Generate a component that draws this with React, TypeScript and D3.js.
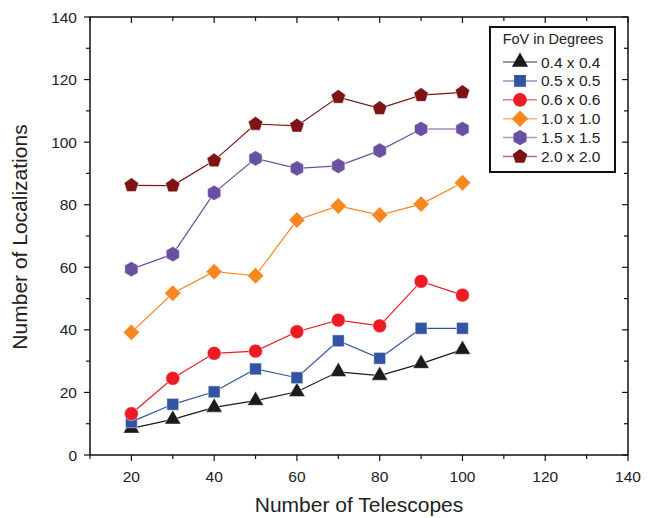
import * as d3 from 'd3';
import { useEffect, useRef } from 'react';

const telescopes = [20, 30, 40, 50, 60, 70, 80, 90, 100];
const fovLabels = ['0.4 x 0.4', '0.5 x 0.5', '0.6 x 0.6', '1.0 x 1.0', '1.5 x 1.5', '2.0 x 2.0'];
const fov04 = [8.5, 11.4, 15.2, 17.4, 20.2, 26.6, 25.4, 29.2, 33.7];
const fov05 = [10.6, 16.2, 20.2, 27.5, 24.7, 36.5, 30.9, 40.5, 40.5];
const fov06 = [13.2, 24.5, 32.5, 33.2, 39.4, 43.1, 41.3, 55.5, 51.1];
const fov10 = [39.2, 51.7, 58.6, 57.3, 75.1, 79.6, 76.7, 80.2, 87];
const fov15 = [59.4, 64.2, 83.8, 94.8, 91.6, 92.4, 97.3, 104.2, 104.2];
const fov20 = [86.2, 86.1, 94.1, 105.8, 105.2, 114.4, 110.8, 115, 115.9];
const xTicks = [20, 40, 60, 80, 100, 120, 140];
const yTicks = [0, 20, 40, 60, 80, 100, 120, 140];

const colors = ['#1b1b1b', '#3353a4', '#ed1c24', '#f7871f', '#6a50a3', '#7d1315'];

const polygon = (n: number, r: number, rot: number) => {
  const pts = d3.range(n).map(i => {
    const a = rot + (i * 2 * Math.PI) / n;
    return [r * Math.cos(a), r * Math.sin(a)];
  });
  return 'M' + pts.map(p => p.map(v => v.toFixed(2)).join(',')).join('L') + 'Z';
};

// triangle, square, circle, diamond, hexagon, pentagon
const markerPath = (i: number) => {
  if (i === 0) return d3.symbol().type(d3.symbolTriangle).size(115)() as string;
  if (i === 1) return d3.symbol().type(d3.symbolSquare).size(140)() as string;
  if (i === 2) return d3.symbol().type(d3.symbolCircle).size(150)() as string;
  if (i === 3) return polygon(4, 8.2, 0);
  if (i === 4) return polygon(6, 7.6, -Math.PI / 2);
  return polygon(5, 7.6, -Math.PI / 2);
};

const App = () => {
  const svgRef = useRef<SVGSVGElement>(null);

  useEffect(() => {
    const svg = d3.select(svgRef.current);
    svg.selectAll('*').remove();
    const left = 90, right = 628, top = 17, bottom = 455;
    const font = 'Liberation Sans, Arial, sans-serif';

    const x = d3.scaleLinear().domain([10, 140]).range([left, right]);
    const y = d3.scaleLinear().domain([0, 140]).range([bottom, top]);

    const series = [fov04, fov05, fov06, fov10, fov15, fov20];

    // frame
    svg.append('rect')
      .attr('x', left).attr('y', top)
      .attr('width', right - left).attr('height', bottom - top)
      .attr('fill', 'none').attr('stroke', '#111').attr('stroke-width', 1.5);

    const g = svg.append('g').attr('stroke', '#111').attr('stroke-width', 1.2);
    d3.range(10, 141, 10).forEach(v => {
      const len = v % 20 === 0 ? 6 : 4;
      g.append('line').attr('x1', x(v)).attr('x2', x(v)).attr('y1', bottom).attr('y2', bottom + len);
      g.append('line').attr('x1', x(v)).attr('x2', x(v)).attr('y1', top).attr('y2', top + len);
    });
    d3.range(0, 141, 10).forEach(v => {
      const len = v % 20 === 0 ? 6 : 4;
      g.append('line').attr('y1', y(v)).attr('y2', y(v)).attr('x1', left).attr('x2', left - len);
      g.append('line').attr('y1', y(v)).attr('y2', y(v)).attr('x1', right).attr('x2', right - len);
    });

    svg.append('g').selectAll('text').data(xTicks).enter().append('text')
      .attr('x', d => x(d)).attr('y', bottom + 27)
      .attr('text-anchor', 'middle')
      .style('font-family', font).style('font-size', '15.5px').style('fill', '#222')
      .text(d => d);

    svg.append('g').selectAll('text').data(yTicks).enter().append('text')
      .attr('x', left - 13).attr('y', d => y(d) + 5.5)
      .attr('text-anchor', 'end')
      .style('font-family', font).style('font-size', '15.5px').style('fill', '#222')
      .text(d => d);

    svg.append('text')
      .attr('x', (left + right) / 2).attr('y', 512)
      .attr('text-anchor', 'middle')
      .style('font-family', font).style('font-size', '21px').style('fill', '#222')
      .text('Number of Telescopes');

    svg.append('text')
      .attr('transform', `translate(27, ${(top + bottom) / 2 + 1}) rotate(-90)`)
      .attr('text-anchor', 'middle')
      .style('font-family', font).style('font-size', '21px').style('fill', '#222')
      .text('Number of Localizations');

    const line = d3.line<number>().x((_, i) => x(telescopes[i])).y(d => y(d));

    series.forEach((vals, si) => {
      svg.append('path')
        .attr('d', line(vals))
        .attr('fill', 'none').attr('stroke', colors[si]).attr('stroke-width', 1.2);
    });
    series.forEach((vals, si) => {
      svg.append('g').selectAll('path').data(vals).enter().append('path')
        .attr('transform', (d, i) => `translate(${x(telescopes[i])},${y(d)})`)
        .attr('d', markerPath(si))
        .attr('fill', colors[si]).attr('stroke', '#fff').attr('stroke-width', 0.8).attr('stroke-opacity', 0.6);
    });

    // legend
    const lg = svg.append('g');
    lg.append('rect').attr('x', 490).attr('y', 27).attr('width', 125).attr('height', 145)
      .attr('fill', '#fff').attr('stroke', '#111').attr('stroke-width', 2);
    lg.append('text').attr('x', 553).attr('y', 44).attr('text-anchor', 'middle')
      .style('font-family', font).style('font-size', '14.5px').style('fill', '#222')
      .text('FoV in Degrees');
    fovLabels.forEach((lab, i) => {
      const cy = 62 + i * 18.9;
      lg.append('line').attr('x1', 503).attr('x2', 537).attr('y1', cy).attr('y2', cy)
        .attr('stroke', colors[i]).attr('stroke-opacity', 0.6).attr('stroke-width', 1.5);
      lg.append('path').attr('transform', `translate(520,${cy})`).attr('d', markerPath(i))
        .attr('fill', colors[i]);
      lg.append('text').attr('x', 541).attr('y', cy + 5.5)
        .style('font-family', font).style('font-size', '15.5px').style('fill', '#222')
        .text(lab);
    });
  }, []);

  return <svg ref={svgRef} width={648} height={518} style={{ position: 'absolute', left: 0, top: 0 }}></svg>;
};

export default App;
